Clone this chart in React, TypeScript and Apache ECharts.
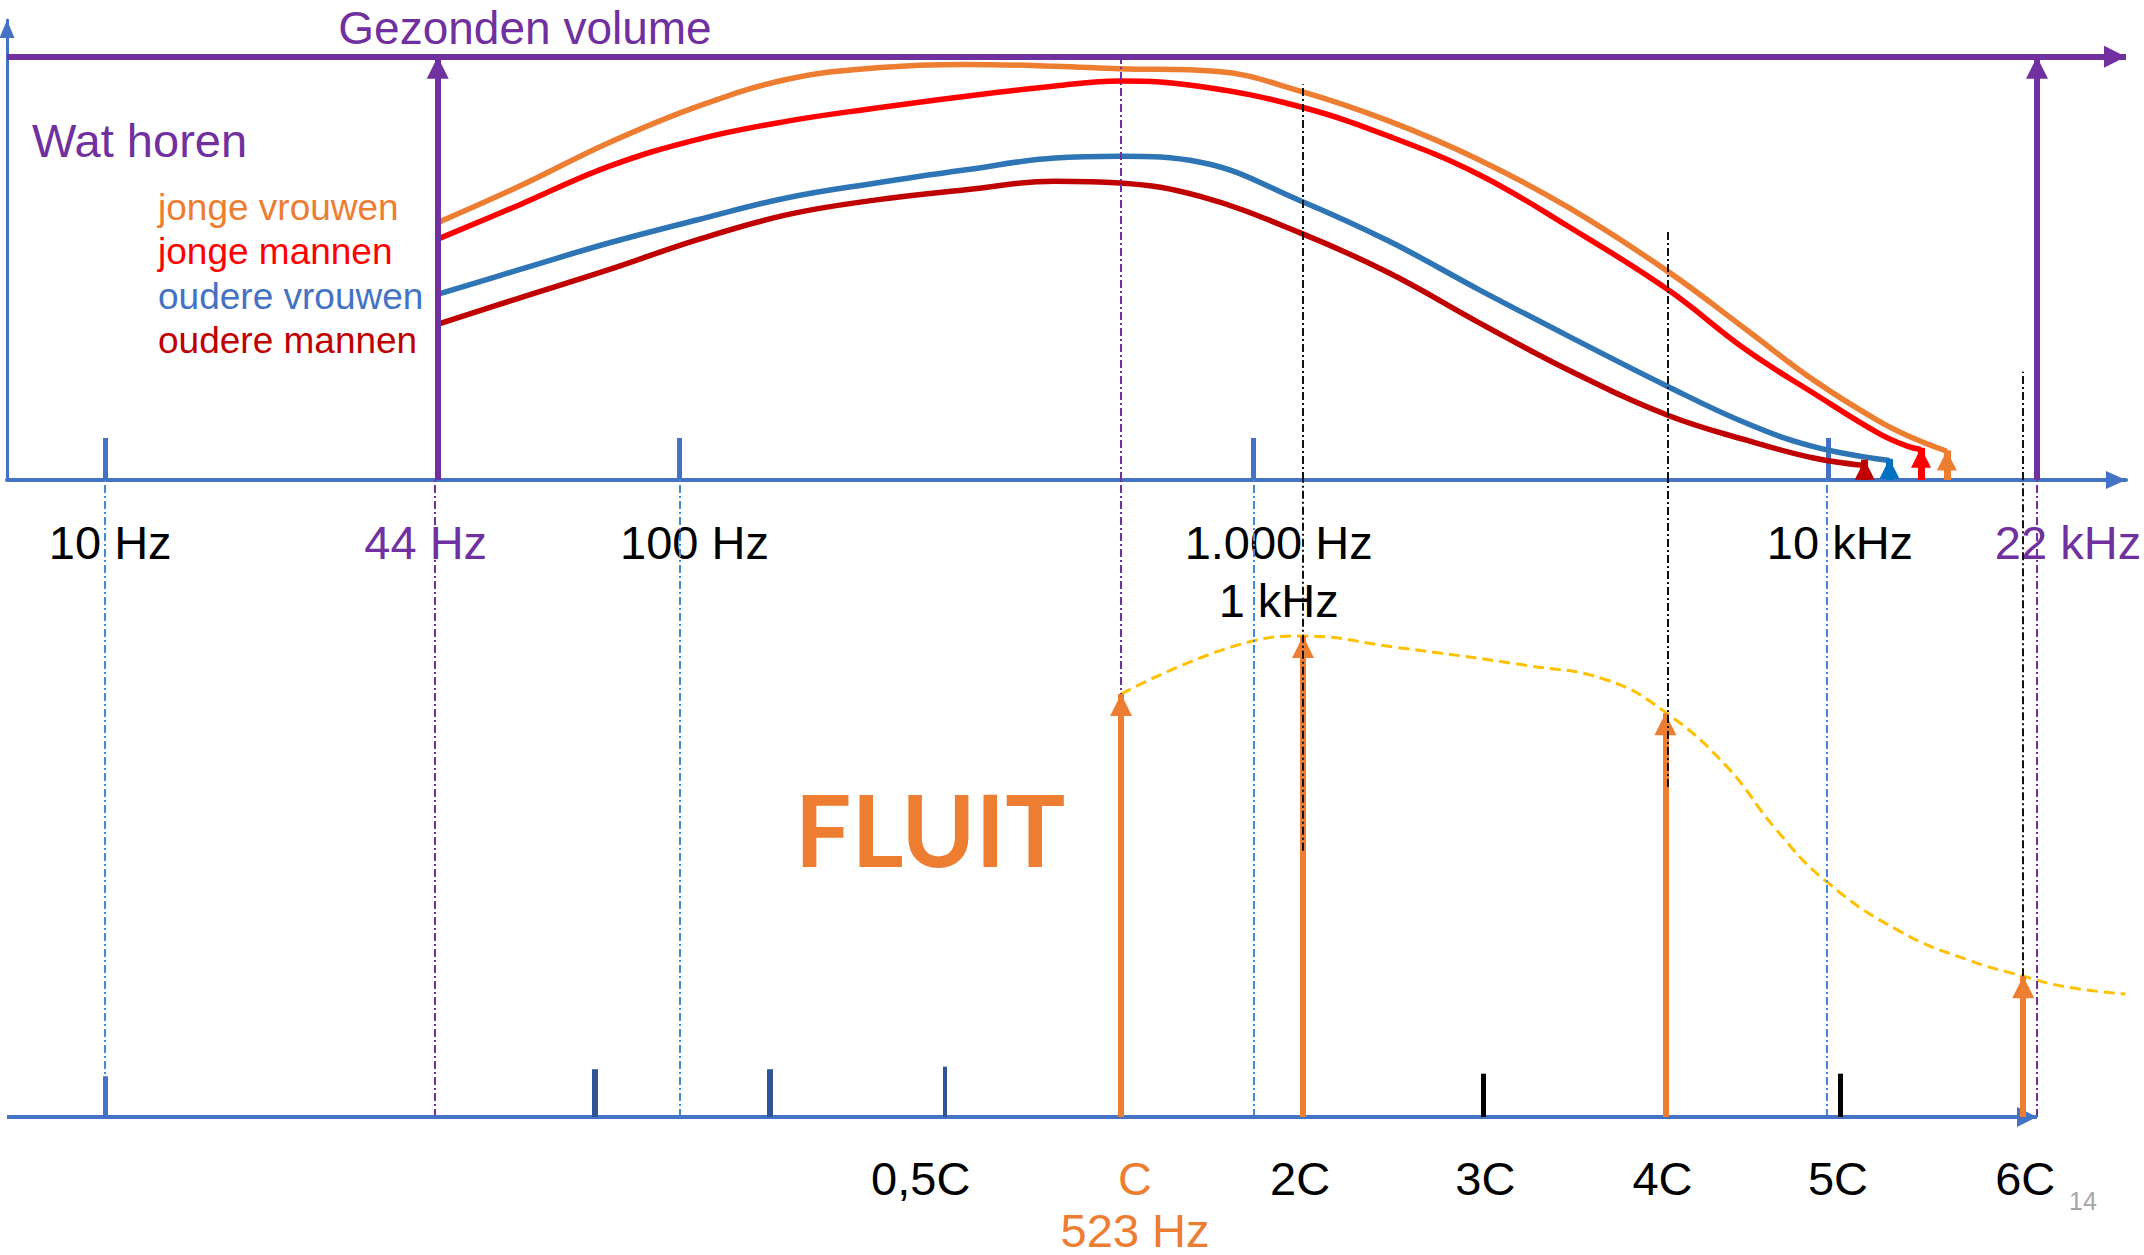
import { useEffect, useRef } from "react";
import * as echarts from "echarts";

// ---------- data (x = position on the log10(Hz) scale as drawn, y = level) ----------
const groupNames = ["jonge vrouwen", "jonge mannen", "oudere vrouwen", "oudere mannen"];

const jongeVrouwenX = [1.577, 1.721, 1.877, 2.032, 2.188, 2.343, 2.499, 2.654, 2.767, 2.933, 3.081, 3.236, 3.392, 3.548, 3.721, 3.858, 3.975, 4.09, 4.15, 4.207];
const jongeVrouwenY = [60.7, 69.4, 79.7, 88.3, 94.7, 97.4, 98.2, 97.8, 97.2, 96.6, 91.9, 84.8, 75.7, 64.4, 49.3, 35.5, 23.6, 13.8, 9.8, 6.8];

const jongeMannenX = [1.577, 1.721, 1.877, 2.032, 2.188, 2.343, 2.499, 2.654, 2.767, 2.907, 3.081, 3.236, 3.392, 3.548, 3.721, 3.858, 3.975, 4.09, 4.138, 4.162];
const jongeMannenY = [56.8, 65.0, 74.1, 80.5, 84.8, 87.9, 90.7, 93.1, 94.3, 93.0, 88.2, 81.2, 72.2, 59.9, 45.0, 30.7, 20.5, 10.9, 8.0, 7.2];

const oudereVrouwenX = [1.577, 1.721, 1.877, 2.032, 2.188, 2.343, 2.499, 2.654, 2.767, 2.907, 3.081, 3.236, 3.392, 3.548, 3.721, 3.858, 3.975, 4.107];
const oudereVrouwenY = [43.8, 49.7, 56.0, 61.5, 66.7, 70.2, 73.3, 76.1, 76.5, 75.1, 66.0, 56.4, 45.0, 34.0, 22.1, 13.4, 7.9, 4.6];

const oudereMannenX = [1.577, 1.721, 1.877, 2.032, 2.188, 2.343, 2.499, 2.654, 2.767, 2.907, 3.081, 3.236, 3.392, 3.548, 3.721, 3.858, 3.975, 4.064];
const oudereMannenY = [36.7, 43.0, 49.7, 56.8, 62.7, 66.2, 68.6, 70.6, 70.2, 67.0, 58.4, 48.9, 37.2, 26.0, 15.3, 9.4, 5.2, 3.4];

// upper-limit arrows at the end of each curve (level of the arrow tip)
const limitArrowTip = [7.0, 7.6, 5.0, 4.8];

// hearing range limits (44 Hz and 22 kHz, as drawn) and the "Gezonden volume" level
const rangeLimits = [1.579, 4.364];
const maxVolume = 100;

// flute spectrum
const fluteEnvelopeX = [2.769, 2.993, 3.086, 3.242, 3.474, 3.615, 3.719, 3.824, 3.91, 3.998, 4.126, 4.242, 4.34, 4.416, 4.518];
const fluteEnvelopeY = [66.4, 74.6, 75.5, 73.8, 70.9, 68.6, 63.4, 55.0, 45.1, 36.9, 29.1, 24.7, 22.1, 20.4, 19.3];
const fluteHarmonicX = [2.769, 3.086, 3.717, 4.34];
const fluteHarmonicLevel = [66.4, 75.5, 63.4, 22.1];

// frequency axis
const freqTickValues = [1, 2, 3, 4];
const freqLabelValues = [1, 1.579, 2, 3, 4, 4.364];
const freqLabels = ["10 Hz", "44 Hz", "100 Hz", "1.000 Hz\n1 kHz", "10 kHz", "22 kHz"];

// note axis
const noteLabelValues = [2.462, 2.769, 3.086, 3.4, 3.717, 4.021, 4.34];
const noteLabels = ["0,5C", "C\n523 Hz", "2C", "3C", "4C", "5C", "6C"];
const minorNoteTicks = [1.852, 2.157];
const halfNoteTick = [2.462];
const decadeTickLow = [1];
const oddHarmonicTicks = [3.4, 4.021];

// guide lines
const blueGuideX = [1, 2, 3, 3.998];
const purpleGuideX = [1.574, 2.769, 4.364];
const blackGuideX = [3.086, 3.721, 4.34];
const blackGuideTopLevel = [93.5, 58.6, 25.6];
const blackGuideLowLevel = [41.8, 51.8, 22.1];

const pageNumber = "14";

// ---------- styles ----------
const FONT = "'Liberation Sans', Arial, Helvetica, sans-serif";
const PURPLE = "#7030A0";
const AXIS_BLUE = "#4472C4";
const ORANGE = "#ED7D31";
const curveColors = ["#ED7D31", "#FF0000", "#2E75B6", "#C00000"];
const arrowColors = ["#ED7D31", "#FF0000", "#0070C0", "#C00000"];
const legendColors = ["#ED7D31", "#FF0000", "#4472C4", "#C00000"];
const freqLabelColors = ["#000", PURPLE, "#000", "#000", "#000", PURPLE];
const freqLabelShift = [5, -12, 15, 25, 12, 31];
const noteLabelColors = ["#000", ORANGE, "#000", "#000", "#000", "#000", "#000"];
const noteLabelShift = [-24, 14, -3, 2, -3, -2, 2];
const DASHDOT = [8, 3, 2, 3];

const X_MIN = 0.829;
const X_MAX = 4.519;
const TOP_Y_MAX = 108.7;

type Seg = [number, number, number, number];

function nearestIdx(arr: number[], v: number) {
  let bi = 0;
  for (let i = 1; i < arr.length; i++) if (Math.abs(arr[i] - v) < Math.abs(arr[bi] - v)) bi = i;
  return bi;
}

function markSeries(id: string, grid: number, list: Seg[], color: string, width: number, type: any, arrow: number, z: number) {
  return {
    type: "line",
    id,
    xAxisIndex: grid,
    yAxisIndex: grid,
    data: [],
    z,
    silent: true,
    markLine: {
      silent: true,
      animation: false,
      symbol: arrow ? ["none", "triangle"] : ["none", "none"],
      symbolSize: arrow || 1,
      label: { show: false },
      emphasis: { disabled: true },
      lineStyle: { color, width, type, opacity: 1 },
      data: list.map(([x0, y0, x1, y1]) => [
        { coord: [x0, y0] },
        arrow ? { coord: [x1, y1], symbolOffset: [0, arrow / 2] } : { coord: [x1, y1] },
      ]),
    },
  };
}

function richFor(prefix: string, colors: string[], shifts: number[], secondLineHeight: number) {
  const rich: any = {};
  colors.forEach((c, i) => {
    const s = shifts[i];
    const base = {
      color: c,
      fontSize: 47,
      fontFamily: FONT,
      padding: s >= 0 ? [0, 0, 0, 2 * s] : [0, -2 * s, 0, 0],
    };
    rich[prefix + i] = { ...base, lineHeight: 58 };
    rich[prefix + "b" + i] = { ...base, lineHeight: secondLineHeight };
  });
  return rich;
}

function labelFormatter(prefix: string, values: number[], labels: string[]) {
  return (v: number) => {
    const i = nearestIdx(values, v);
    return labels[i]
      .split("\n")
      .map((s, li) => `{${prefix}${li === 0 ? "" : "b"}${i}|${s}}`)
      .join("\n");
  };
}

function buildOption() {
  const curvesX = [jongeVrouwenX, jongeMannenX, oudereVrouwenX, oudereMannenX];
  const curvesY = [jongeVrouwenY, jongeMannenY, oudereVrouwenY, oudereMannenY];

  const curveSeries = groupNames.map((name, i) => ({
    type: "line",
    name,
    xAxisIndex: 0,
    yAxisIndex: 0,
    data: curvesX[i].map((x, j) => [x, curvesY[i][j]]),
    smooth: 0.4,
    showSymbol: false,
    symbol: "none",
    z: 3,
    lineStyle: { color: curveColors[i], width: 5.5 },
    silent: true,
  }));

  const limitArrows = groupNames.map((_, i) => {
    const x = curvesX[i][curvesX[i].length - 1];
    return markSeries("limit" + i, 0, [[x, 0, x, limitArrowTip[i]]], arrowColors[i], 7, "solid", 20, 4);
  });

  const frame = markSeries(
    "frame",
    0,
    [
      [X_MIN, maxVolume, X_MAX, maxVolume],
      [rangeLimits[0], 0, rangeLimits[0], maxVolume],
      [rangeLimits[1], 0, rangeLimits[1], maxVolume],
    ],
    PURPLE,
    6,
    "solid",
    22,
    5
  );

  const topPurpleGuide = markSeries("g0p", 0, [[purpleGuideX[1], 0, purpleGuideX[1], maxVolume]], PURPLE, 2, DASHDOT, 0, 1);
  const topBlackGuides = markSeries(
    "g0k",
    0,
    blackGuideX.map((x, i) => [x, 0, x, blackGuideTopLevel[i]] as Seg),
    "#111",
    2,
    DASHDOT,
    0,
    6
  );

  const lowBlueGuides = markSeries("g1b", 1, blueGuideX.map((x) => [x, 0, x, 100] as Seg), "#3D8BD9", 2, DASHDOT, 0, 1);
  const lowPurpleGuides = markSeries("g1p", 1, purpleGuideX.map((x) => [x, 0, x, 100] as Seg), PURPLE, 2, DASHDOT, 0, 1);
  const lowBlackGuides = markSeries(
    "g1k",
    1,
    blackGuideX.map((x, i) => [x, blackGuideLowLevel[i], x, 100] as Seg),
    "#111",
    2,
    DASHDOT,
    0,
    6
  );

  const lowAxis = markSeries("lowAxis", 1, [[X_MIN, 0, rangeLimits[1], 0]], AXIS_BLUE, 4, "solid", 20, 4);
  const ticksA = markSeries("tA", 1, minorNoteTicks.map((x) => [x, 0, x, 7.5] as Seg), "#2F5597", 6, "solid", 0, 4);
  const ticksB = markSeries("tB", 1, halfNoteTick.map((x) => [x, 0, x, 7.9] as Seg), "#2F5597", 4, "solid", 0, 4);
  const ticksC = markSeries("tC", 1, decadeTickLow.map((x) => [x, 0, x, 6.4] as Seg), AXIS_BLUE, 5, "solid", 0, 4);
  const ticksD = markSeries("tD", 1, oddHarmonicTicks.map((x) => [x, 0, x, 6.8] as Seg), "#000", 5, "solid", 0, 4);

  const fluteEnvelope = {
    type: "line",
    name: "fluit",
    xAxisIndex: 1,
    yAxisIndex: 1,
    data: fluteEnvelopeX.map((x, j) => [x, fluteEnvelopeY[j]]),
    smooth: 0.45,
    showSymbol: false,
    symbol: "none",
    z: 3,
    silent: true,
    lineStyle: { color: "#FFC000", width: 3, type: [11, 6] },
  };
  const fluteArrows = markSeries(
    "fluteArrows",
    1,
    fluteHarmonicX.map((x, i) => [x, 0, x, fluteHarmonicLevel[i]] as Seg),
    ORANGE,
    6,
    "solid",
    22,
    5
  );

  const legendTexts = groupNames.map((name, i) => ({
    type: "text",
    x: 158,
    y: 207 + i * 44.5,
    style: { text: name, fill: legendColors[i], fontSize: 37, fontFamily: FONT, align: "left", verticalAlign: "middle" },
  }));

  return {
    animation: false,
    backgroundColor: "#ffffff",
    grid: [
      { left: 7, right: 18, top: 20, height: 460, outerBoundsMode: "none", containLabel: false },
      { left: 7, right: 18, top: 480, height: 637, outerBoundsMode: "none", containLabel: false },
    ],
    xAxis: [
      {
        type: "value",
        gridIndex: 0,
        min: X_MIN,
        max: X_MAX,
        splitLine: { show: false },
        axisLine: {
          show: true,
          onZero: false,
          lineStyle: { color: AXIS_BLUE, width: 4 },
          symbol: ["none", "triangle"],
          symbolSize: [18, 20],
          symbolOffset: [0, -10],
        },
        axisTick: {
          show: true,
          inside: true,
          length: 42,
          customValues: freqTickValues,
          lineStyle: { color: AXIS_BLUE, width: 5 },
        },
        axisLabel: {
          show: true,
          margin: 33,
          customValues: freqLabelValues,
          formatter: labelFormatter("f", freqLabelValues, freqLabels),
          rich: richFor("f", freqLabelColors, freqLabelShift, 58),
        },
      },
      {
        type: "value",
        gridIndex: 1,
        min: X_MIN,
        max: X_MAX,
        splitLine: { show: false },
        axisLine: { show: false },
        axisTick: { show: false },
        axisLabel: {
          show: true,
          margin: 32,
          customValues: noteLabelValues,
          formatter: labelFormatter("n", noteLabelValues, noteLabels),
          rich: richFor("n", noteLabelColors, noteLabelShift, 46),
        },
      },
    ],
    yAxis: [
      {
        type: "value",
        gridIndex: 0,
        min: 0,
        max: TOP_Y_MAX,
        splitLine: { show: false },
        axisTick: { show: false },
        axisLabel: { show: false },
        axisLine: {
          show: true,
          onZero: false,
          lineStyle: { color: AXIS_BLUE, width: 3 },
          symbol: ["none", "triangle"],
          symbolSize: [15, 18],
          symbolOffset: [0, -9],
        },
      },
      {
        type: "value",
        gridIndex: 1,
        min: 0,
        max: 100,
        show: false,
        splitLine: { show: false },
      },
    ],
    series: [
      topPurpleGuide,
      lowBlueGuides,
      lowPurpleGuides,
      ...curveSeries,
      ...limitArrows,
      frame,
      fluteEnvelope,
      lowAxis,
      ticksA,
      ticksB,
      ticksC,
      ticksD,
      fluteArrows,
      topBlackGuides,
      lowBlackGuides,
    ],
    graphic: [
      {
        type: "text",
        x: 525,
        y: 28,
        style: { text: "Gezonden volume", fill: PURPLE, fontSize: 46, fontFamily: FONT, align: "center", verticalAlign: "middle" },
      },
      {
        type: "text",
        x: 32,
        y: 140,
        style: { text: "Wat horen", fill: PURPLE, fontSize: 47, fontFamily: FONT, align: "left", verticalAlign: "middle" },
      },
      ...legendTexts,
      {
        type: "text",
        x: 930,
        y: 828,
        style: { text: "FLUIT", fill: ORANGE, fontSize: 100, fontWeight: "bold", fontFamily: "Lato, 'Open Sans', sans-serif", align: "center", verticalAlign: "middle" },
      },
      {
        type: "text",
        x: 2083,
        y: 1201,
        style: { text: pageNumber, fill: "#A6A6A6", fontSize: 25, fontFamily: FONT, align: "center", verticalAlign: "middle" },
      },
    ],
  };
}

export default function App() {
  const ref = useRef<HTMLDivElement>(null);
  useEffect(() => {
    if (!ref.current) return;
    const chart = echarts.init(ref.current, null, { renderer: "svg" });
    chart.setOption(buildOption() as any);
    return () => chart.dispose();
  }, []);
  return (
    <div
      ref={ref}
      style={{ position: "absolute", left: 0, top: 0, width: 2144, height: 1255, background: "#fff" }}
    />
  );
}
